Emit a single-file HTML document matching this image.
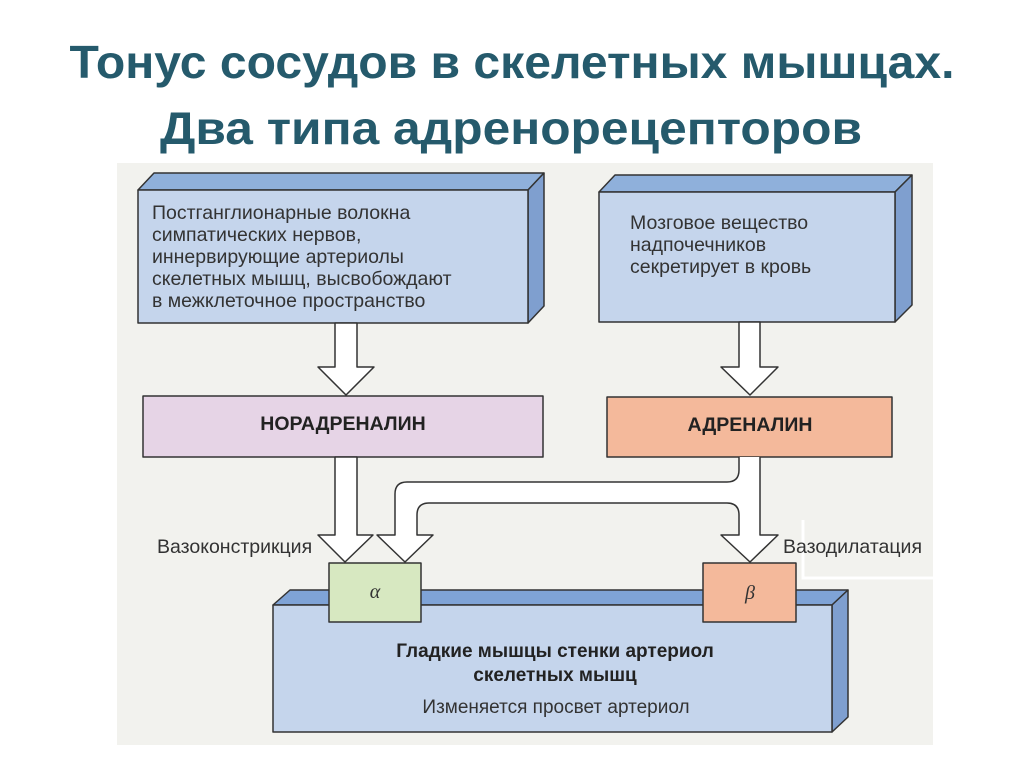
<!DOCTYPE html>
<html><head><meta charset="utf-8"><style>
html,body{margin:0;padding:0;background:#fff;}
svg{display:block;}
text{font-family:"Liberation Sans",sans-serif;}
</style></head><body>
<svg width="1024" height="767" viewBox="0 0 1024 767" xmlns="http://www.w3.org/2000/svg">
<rect x="0" y="0" width="1024" height="767" fill="#fff"/>
<text x="512" y="78" text-anchor="middle" font-size="46" font-weight="bold" fill="#255a6c" textLength="885" lengthAdjust="spacingAndGlyphs">Тонус сосудов в скелетных мышцах.</text>
<text x="511" y="144" text-anchor="middle" font-size="46" font-weight="bold" fill="#255a6c" textLength="702" lengthAdjust="spacingAndGlyphs">Два типа адренорецепторов</text>

<rect x="117" y="163" width="816" height="582" fill="#f2f2ee"/>
<path d="M803 520 V578 H933" fill="none" stroke="#fff" stroke-width="3"/>

<g stroke="#333" stroke-width="1.5" stroke-linejoin="round">
<polygon points="138,190 154,173 544,173 528,190" fill="#8fb0db"/>
<polygon points="528,190 544,173 544,306 528,323" fill="#7f9fcf"/>
<rect x="138" y="190" width="390" height="133" fill="#c5d5ec"/>
<polygon points="599,192 615,175 912,175 895,192" fill="#8fb0db"/>
<polygon points="895,192 912,175 912,305 895,322" fill="#7f9fcf"/>
<rect x="599" y="192" width="296" height="130" fill="#c5d5ec"/>

<polygon points="335,323 357,323 357,367 374,367 346,395 318,367 335,367" fill="#fff"/>
<polygon points="739,322 760,322 760,367 778,367 750,395 721,367 739,367" fill="#fff"/>

<rect x="143" y="396" width="400" height="61" fill="#e6d4e6"/>
<rect x="607" y="397" width="285" height="60" fill="#f4b99b"/>

<polygon points="273,605 290,590 848,590 832,605" fill="#7fa3d6"/>
<polygon points="832,605 848,590 848,717 832,732" fill="#7f9fcf"/>
<rect x="273" y="605" width="559" height="127" fill="#c5d5ec"/>

<polygon points="335,457 357,457 357,535 373,535 345,562 318,535 335,535" fill="#fff"/>
<path d="M739,457 V470 Q739,482 727,482 H407 Q395,482 395,494 V535 H377 L405,562 L433,535 H417 V515 Q417,503 429,503 H727 Q739,503 739,515 V535 H721 L750,562 L778,535 H760 V457" fill="#fff"/>

<rect x="329" y="563" width="92" height="59" fill="#d7e8c1"/>
<rect x="703" y="563" width="93" height="59" fill="#f4b99b"/>
</g>

<g font-size="19.5" fill="#333">
<text x="152" y="219">Постганглионарные волокна</text>
<text x="152" y="241">симпатических нервов,</text>
<text x="152" y="263">иннервирующие артериолы</text>
<text x="152" y="285">скелетных мышц, высвобождают</text>
<text x="152" y="307">в межклеточное пространство</text>
<text x="630" y="229">Мозговое вещество</text>
<text x="630" y="251">надпочечников</text>
<text x="630" y="273">секретирует в кровь</text>
</g>
<text x="343" y="430" text-anchor="middle" font-size="19.5" font-weight="bold" fill="#222">НОРАДРЕНАЛИН</text>
<text x="750" y="431" text-anchor="middle" font-size="19.5" font-weight="bold" fill="#222">АДРЕНАЛИН</text>
<text x="157" y="553" font-size="19.5" fill="#333">Вазоконстрикция</text>
<text x="783" y="553" font-size="19.5" fill="#333">Вазодилатация</text>
<text x="375" y="598" text-anchor="middle" font-size="20" font-style="italic" fill="#333" style="font-family:'Liberation Serif',serif">α</text>
<text x="750" y="599" text-anchor="middle" font-size="20" font-style="italic" fill="#333" style="font-family:'Liberation Serif',serif">β</text>
<text x="555" y="657" text-anchor="middle" font-size="19" font-weight="bold" fill="#222">Гладкие мышцы стенки артериол</text>
<text x="555" y="681" text-anchor="middle" font-size="19" font-weight="bold" fill="#222">скелетных мышц</text>
<text x="556" y="713" text-anchor="middle" font-size="19" fill="#333">Изменяется просвет артериол</text>
</svg>
</body></html>
